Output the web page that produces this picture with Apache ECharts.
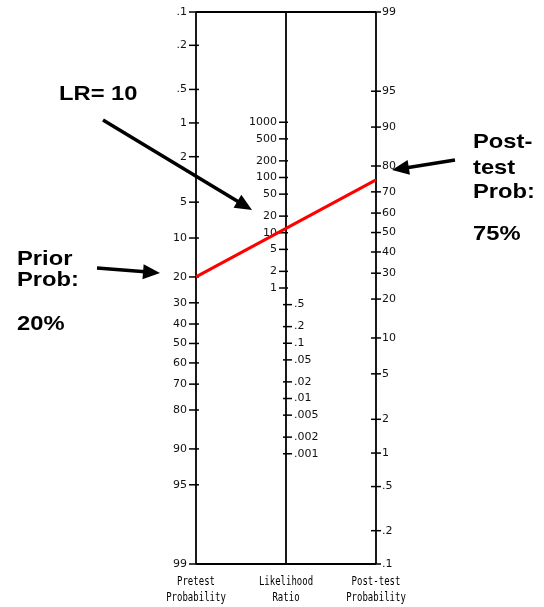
<!DOCTYPE html>
<html>
<head>
<meta charset="utf-8">
<title>Fagan nomogram</title>
<script src="https://cdn.jsdelivr.net/npm/echarts@6/dist/echarts.min.js"></script>
<style>
  html, body { margin: 0; padding: 0; background: #fff; }
  #chart_nomo { width: 544px; height: 607px; }
</style>
</head>
<body>
<div id="chart_nomo"></div>
<script>
// tick values of the three scales (top to bottom)
const pretestTicks = [0.1, 0.2, 0.5, 1, 2, 5, 10, 20, 30, 40, 50, 60, 70, 80, 90, 95, 99];
const lrTicks = [1000, 500, 200, 100, 50, 20, 10, 5, 2, 1, 0.5, 0.2, 0.1, 0.05, 0.02, 0.01, 0.005, 0.002, 0.001];
const posttestTicks = [99, 95, 90, 80, 70, 60, 50, 40, 30, 20, 10, 5, 2, 1, 0.5, 0.2, 0.1];
const axisNames = [["Pretest", "Probability"], ["Likelihood", "Ratio"], ["Post-test", "Probability"]];

// worked example
const priorProb = 20;
const likelihoodRatio = 10;
const postProb = 75;

// log-odds scale, .1% .. 99%
function logit(p) { return Math.log(p / (100 - p)); }
const LO = logit(0.1), HI = logit(99), U = HI - LO;
const uPre = p => logit(p) - LO;            // left axis, .1 on top
const uPost = p => HI - logit(p);           // right axis, 99 on top
const uLR = r => (U - Math.log(r)) / 2;     // middle axis
const fmt = v => String(v).replace(/^0\./, ".");

// rows: [column, position, value, labelSide]
const tickRows = [];
pretestTicks.forEach(v => tickRows.push([0, uPre(v), v, -1]));
lrTicks.forEach(v => tickRows.push([1, uLR(v), v, v >= 1 ? -1 : 1]));
posttestTicks.forEach(v => tickRows.push([2, uPost(v), v, 1]));

const tickFont = '11px "DejaVu Sans"';
const nameFont = '9px "DejaVu Sans Mono"';
const noteFont = 'bold 21px "Liberation Sans"';

function renderTick(params, api) {
  const col = api.value(0), side = api.value(3);
  const p = api.coord([col, api.value(1)]);
  let a, b, lx;
  if (col === 0) { a = -7; b = 3; lx = -9; }
  else if (col === 1) { if (side < 0) { a = -7; b = 2; lx = -9; } else { a = -3; b = 6; lx = 8; } }
  else { a = -5; b = 5; lx = 6; }
  return {
    type: "group",
    children: [
      { type: "line", shape: { x1: p[0] + a, y1: p[1], x2: p[0] + b, y2: p[1] },
        style: { stroke: "#000", lineWidth: 1.5 } },
      { type: "text", x: p[0] + lx, y: p[1],
        style: { text: fmt(api.value(2)), fill: "#111", font: tickFont,
                 align: side < 0 ? "right" : "left", verticalAlign: "middle" } }
    ]
  };
}

function renderAxis(params, api) {
  const col = api.value(0);
  const top = api.coord([col, 0]), bot = api.coord([col, U]);
  const names = axisNames[col];
  return {
    type: "group",
    children: [
      { type: "line", shape: { x1: top[0], y1: top[1], x2: bot[0], y2: bot[1] },
        style: { stroke: "#000", lineWidth: 1.8 } },
      { type: "text", x: bot[0], y: bot[1] + 18, scaleY: 1.3,
        style: { text: names[0], fill: "#000", font: nameFont, align: "center", verticalAlign: "middle" } },
      { type: "text", x: bot[0], y: bot[1] + 34, scaleY: 1.3,
        style: { text: names[1], fill: "#000", font: nameFont, align: "center", verticalAlign: "middle" } }
    ]
  };
}

// annotation text and arrows
function note(text, x, baseline) {
  return { type: "text", x: x, y: baseline - 7.3, scaleX: 1.13,
           style: { text: text, fill: "#000", font: noteFont, align: "left", verticalAlign: "middle" } };
}
function arrow(x1, y1, x2, y2) {
  const len = Math.hypot(x2 - x1, y2 - y1), ux = (x2 - x1) / len, uy = (y2 - y1) / len;
  const hl = 17, hw = 7.5;
  const bx = x2 - ux * hl, by = y2 - uy * hl;
  return {
    type: "group",
    children: [
      { type: "line", shape: { x1: x1, y1: y1, x2: bx + ux * 2, y2: by + uy * 2 },
        style: { stroke: "#000", lineWidth: 3.5 } },
      { type: "polygon", shape: { points: [[x2, y2], [bx - uy * hw, by + ux * hw], [bx + uy * hw, by - ux * hw]] },
        style: { fill: "#000" } }
    ]
  };
}

let myChart = echarts.init(document.getElementById("chart_nomo"));
const option = {
  animation: false,
  backgroundColor: "#fff",
  grid: { left: 196, top: 12, width: 180, height: 552 },
  xAxis: { type: "value", min: 0, max: 2, show: false },
  yAxis: { type: "value", min: 0, max: U, inverse: true, show: false },
  series: [
    {
      type: "line", clip: false, symbol: "none", silent: true,
      data: [[0, 0], [2, 0]],
      lineStyle: { color: "#000", width: 1.8 }
    },
    {
      type: "line", clip: false, symbol: "none", silent: true,
      data: [[0, U], [2, U]],
      lineStyle: { color: "#000", width: 1.8 }
    },
    {
      type: "custom", clip: false, silent: true,
      data: [[0], [1], [2]],
      renderItem: renderAxis
    },
    {
      type: "custom", clip: false, silent: true,
      data: tickRows,
      renderItem: renderTick
    },
    {
      // the straight line through the nomogram
      type: "line", clip: false, symbol: "none", silent: true, z: 5,
      data: [[0, uPre(priorProb)], [2, uPost(postProb)]],
      lineStyle: { color: "#ff0000", width: 3 }
    }
  ],
  graphic: [
    note("LR= " + likelihoodRatio, 59, 102),
    note("Prior", 17, 267),
    note("Prob:", 17, 288),
    note(priorProb + "%", 17, 332),
    note("Post-", 473, 150),
    note("test", 473, 176),
    note("Prob:", 473, 200),
    note(postProb + "%", 473, 242),
    arrow(103, 120, 252, 210),
    arrow(97, 268, 160, 273),
    arrow(455, 160, 392, 170)
  ]
};
myChart.setOption(option, true);

window.addEventListener("resize", () => {
  myChart.resize();
});
</script>
</body>
</html>
